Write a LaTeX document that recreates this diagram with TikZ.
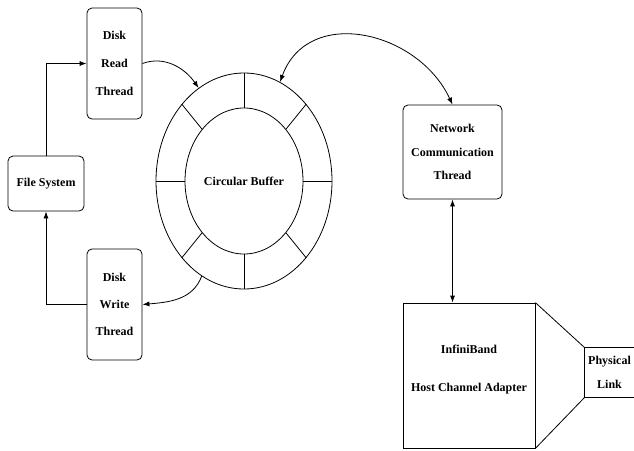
\documentclass[tikz,border=0pt]{standalone}
\usepackage{fontspec}
\setmainfont{Liberation Serif}
\usetikzlibrary{arrows.meta,shapes.geometric}

\begin{document}
\begin{tikzpicture}[x=1pt,y=-1pt, line width=0.8pt,
    every node/.style={align=center, font=\fontsize{12}{28}\selectfont\bfseries},
    threadbox/.style={draw, rounded corners=5pt, inner sep=0pt},
    arr/.style={-{Latex[length=7pt,width=5pt]}},
    dblarr/.style={{Latex[length=7pt,width=5pt]}-{Latex[length=7pt,width=5pt]}}]
  \useasboundingbox (0,0) rectangle (634,450);
  % disk side
  \node[threadbox, minimum width=55pt, minimum height=111pt] (read) at (114.5,63.5) {Disk\\Read\\Thread};
  \node[threadbox, minimum width=55pt, minimum height=111pt, font=\fontsize{12}{27}\selectfont\bfseries] (write) at (114.5,304.5) {Disk\\Write\\Thread};
  \node[threadbox, minimum width=76pt, minimum height=55pt] (fs) at (46,183.5) {File System};
  \draw[arr] (fs.north) |- (read.west);
  \draw[arr] (write.west) -| (fs.south);
  % buffer
  \node[draw, ellipse, minimum width=176pt, minimum height=216pt, inner sep=0pt] (outer) at (244,181) {};
  \node[draw, ellipse, minimum width=118pt, minimum height=146pt, inner sep=0pt] (inner) at (244,181) {Circular Buffer};
  \foreach \a in {0,51,90,129,180,231,270,309}
    \draw (inner.\a) -- (outer.\a);
  \draw[arr] (read.east) to[out=20,in=125] (outer.116);
  \draw[arr] (outer.246) to[out=250,in=5] (write.east);
  % network side
  \node[threadbox, minimum width=99pt, minimum height=94pt, font=\fontsize{12}{23.5}\selectfont\bfseries] (network) at (452.5,152) {Network\\Communication\\Thread};
  \node[draw, minimum width=132pt, minimum height=145pt, inner sep=0pt, text depth=15pt, font=\fontsize{12}{38}\selectfont\bfseries] (hca) at (469,375.5) {InfiniBand\\Host Channel Adapter};
  \node[minimum width=49pt, minimum height=49pt, inner sep=0pt, font=\fontsize{12}{24}\selectfont\bfseries] (link) at (609.5,372.5) {Physical\\Link};
  \draw (link.north east) -- (link.north west) -- (link.south west) -- (link.south east);
  \draw (hca.north east) -- (link.north west);
  \draw (hca.south east) -- (link.south west);
  \draw[dblarr] (outer.70) to[out=70,in=115,looseness=1.2] (network.north);
  \draw[dblarr] (network.south) -- (network.south |- hca.north);
\end{tikzpicture}
\end{document}
